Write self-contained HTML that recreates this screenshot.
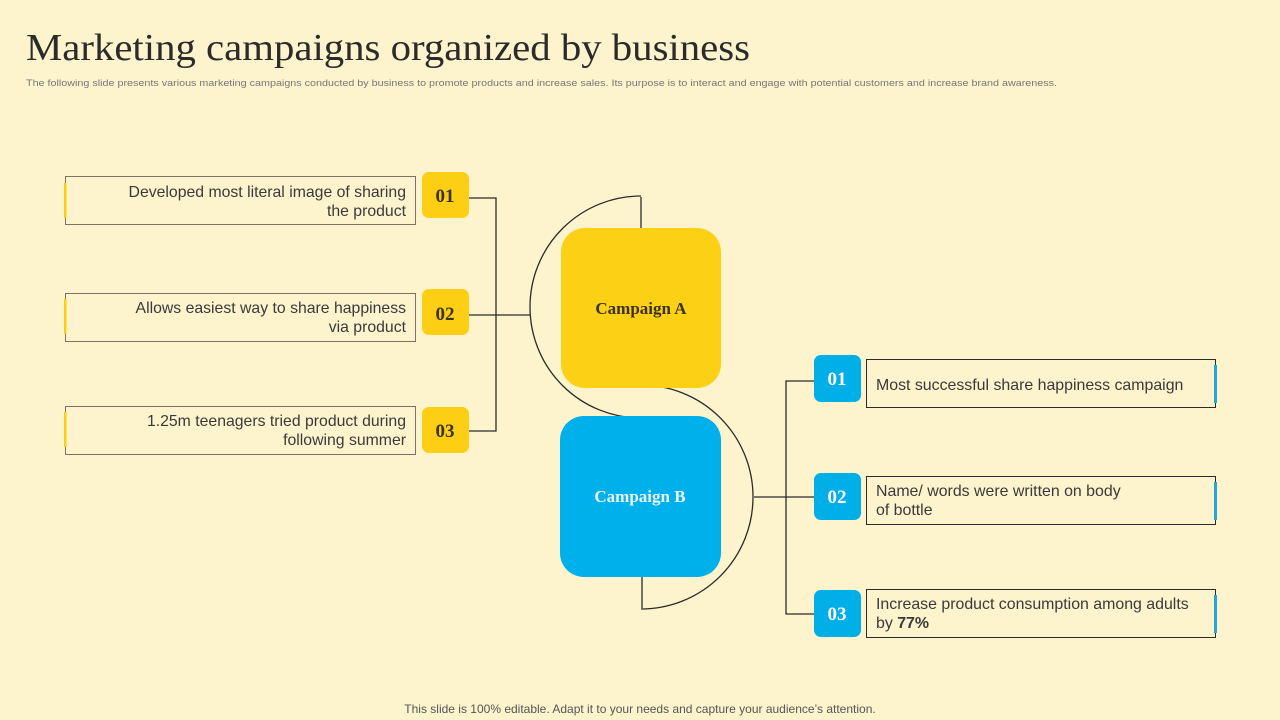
<!DOCTYPE html>
<html><head><meta charset="utf-8"><style>
html,body{margin:0;padding:0;background:#FDF3CD;}
svg{display:block}
</style></head><body>
<svg width="1280" height="720" viewBox="0 0 1280 720" xmlns="http://www.w3.org/2000/svg">
<rect width="1280" height="720" fill="#FDF3CD"/>
<text x="26" y="60" font-family="Liberation Serif, serif" font-size="38" fill="#2b2b2b" textLength="724" lengthAdjust="spacingAndGlyphs">Marketing campaigns organized by business</text>
<text x="26" y="86" font-family="Liberation Sans, sans-serif" font-size="9" fill="#777" textLength="1031" lengthAdjust="spacingAndGlyphs">The following slide presents various marketing campaigns conducted by business to promote products and increase sales. Its purpose is to interact and engage with potential customers and increase brand awareness.</text>

<g stroke="#2b2b2b" stroke-width="1.3" fill="none">
<polyline points="469,198 496,198 496,431 469,431"/>
<line x1="469" y1="315" x2="530" y2="315"/>
<path d="M641,197 L641,228"/>
<path d="M641,196 A111,111 0 0 0 641,418"/>
<path d="M641,385 A112,112 0 0 1 641,609"/>
<path d="M642,577 L642,608"/>
<polyline points="814,381 786,381 786,614 814,614"/>
<line x1="754" y1="497" x2="814" y2="497"/>
</g>

<g font-family="Liberation Sans, sans-serif" font-size="15.8" fill="#3a3a3a" text-anchor="end">
<rect x="65.5" y="176.5" width="350" height="48" fill="none" stroke="#7a7366"/>
<rect x="64" y="183" width="2.5" height="35" fill="#FCCF14"/>
<text x="406" y="197">Developed most literal image of sharing</text>
<text x="406" y="216">the product</text>
<rect x="65.5" y="293.5" width="350" height="48" fill="none" stroke="#7a7366"/>
<rect x="64" y="299" width="2.5" height="35" fill="#FCCF14"/>
<text x="406" y="313">Allows easiest way to share happiness</text>
<text x="406" y="332">via product</text>
<rect x="65.5" y="406.5" width="350" height="48" fill="none" stroke="#7a7366"/>
<rect x="64" y="412" width="2.5" height="35" fill="#FCCF14"/>
<text x="406" y="426">1.25m teenagers tried product during</text>
<text x="406" y="445">following summer</text>
</g>
<g font-family="Liberation Serif, serif" font-size="19" font-weight="bold" fill="#3a3320" text-anchor="middle">
<rect x="422" y="172" width="47" height="46" rx="7" fill="#FCCF14"/>
<text x="445" y="202">01</text>
<rect x="422" y="289" width="47" height="46" rx="7" fill="#FCCF14"/>
<text x="445" y="320">02</text>
<rect x="422" y="407" width="47" height="46" rx="7" fill="#FCCF14"/>
<text x="445" y="437">03</text>
</g>

<rect x="561" y="228" width="160" height="160" rx="24" fill="#FCD014"/>
<text x="641" y="314" font-family="Liberation Serif, serif" font-size="17" font-weight="bold" fill="#3a3320" text-anchor="middle">Campaign A</text>
<rect x="560" y="416" width="161" height="161" rx="24" fill="#00B0EA"/>
<text x="640" y="502" font-family="Liberation Serif, serif" font-size="17" font-weight="bold" fill="#EAF8FF" text-anchor="middle">Campaign B</text>

<g font-family="Liberation Serif, serif" font-size="19" font-weight="bold" fill="#ffffff" text-anchor="middle">
<rect x="814" y="355" width="47" height="47" rx="7" fill="#00AEE8"/>
<text x="837" y="385">01</text>
<rect x="814" y="473" width="47" height="47" rx="7" fill="#00AEE8"/>
<text x="837" y="503">02</text>
<rect x="814" y="590" width="47" height="47" rx="7" fill="#00AEE8"/>
<text x="837" y="620">03</text>
</g>
<g font-family="Liberation Sans, sans-serif" font-size="15.9" fill="#3a3a3a">
<rect x="866.5" y="359.5" width="349" height="48" fill="none" stroke="#2b2b2b"/>
<rect x="1214" y="365" width="3" height="38" fill="#1EA9D8"/>
<text x="876" y="390">Most successful share happiness campaign</text>
<rect x="866.5" y="476.5" width="349" height="48" fill="none" stroke="#2b2b2b"/>
<rect x="1214" y="482" width="3" height="38" fill="#1EA9D8"/>
<text x="876" y="496">Name/ words were written on body</text>
<text x="876" y="515">of bottle</text>
<rect x="866.5" y="589.5" width="349" height="48" fill="none" stroke="#2b2b2b"/>
<rect x="1214" y="595" width="3" height="38" fill="#1EA9D8"/>
<text x="876" y="609">Increase product consumption among adults</text>
<text x="876" y="628">by <tspan font-weight="bold">77%</tspan></text>
</g>

<text x="640" y="713" font-family="Liberation Sans, sans-serif" font-size="12" fill="#555" text-anchor="middle">This slide is 100% editable. Adapt it to your needs and capture your audience’s attention.</text>
</svg>
</body></html>
